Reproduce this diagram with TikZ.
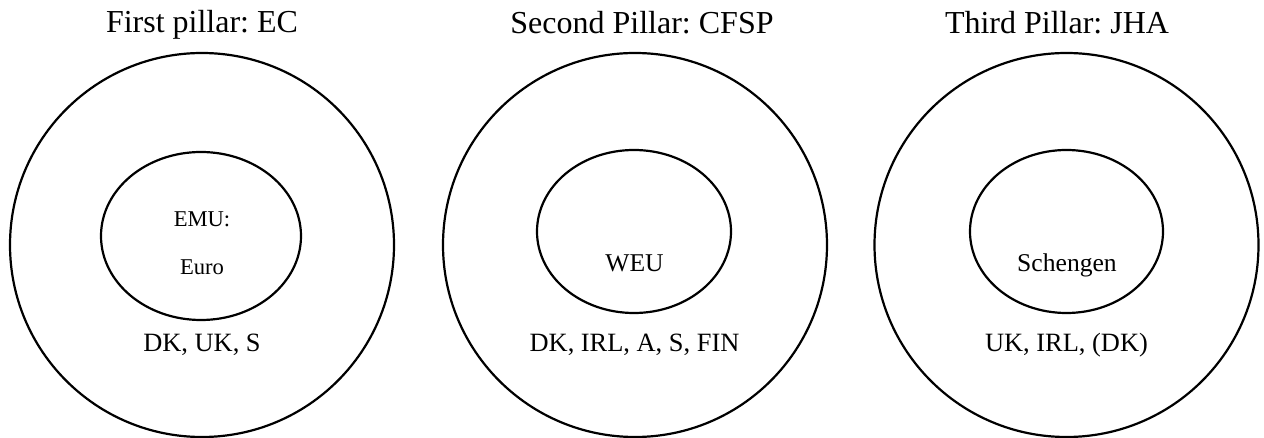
\documentclass[tikz,border=0pt]{standalone}
\usepackage{fontspec}
\setmainfont{Liberation Serif}
\frenchspacing
\usetikzlibrary{shapes.geometric}
\tikzset{
  pillar/.style={draw=black,line width=1.1pt,circle,inner sep=0pt,minimum size=192pt},
  core/.style={draw=black,line width=1.1pt,ellipse,inner sep=0pt},
  pillarhead/.style={font=\fontsize{16}{19}\selectfont,anchor=base},
  optout/.style={font=\fontsize{13.2}{16}\selectfont,anchor=base},
  corelabel/.style={font=\fontsize{12.8}{15}\selectfont,anchor=base},
  corelabelsmall/.style={font=\fontsize{11.3}{14}\selectfont,anchor=base},
}
\begin{document}
\begin{tikzpicture}[x=.5pt,y=-.5pt]
    \useasboundingbox (0,0) rectangle (1264,438);
    % --- first pillar ---
    \node[pillarhead] (headEC) at (202,33) {First pillar: EC};
    \node[pillar] (pillarEC) at (202,245) {};
    \node[core,minimum width=100pt,minimum height=84pt] (coreEMU) at (201,236) {};
    \node[corelabelsmall] (labEMU) at (202,227) {EMU:};
    \node[corelabelsmall] (labEuro) at (202,275) {Euro};
    \node[optout] (outEC) at (202,351) {DK, UK, S};

    % --- second pillar ---
    \node[pillarhead] (headCFSP) at (642,34) {Second Pillar: CFSP};
    \node[pillar] (pillarCFSP) at (635,245) {};
    \node[core,minimum width=97pt,minimum height=81.5pt] (coreWEU) at (634,231.5) {};
    \node[corelabel] (labWEU) at (634.5,272) {WEU};
    \node[optout] (outCFSP) at (634.5,351) {DK, IRL, A, S, FIN};

    % --- third pillar ---
    \node[pillarhead] (headJHA) at (1057,34) {Third Pillar: JHA};
    \node[pillar] (pillarJHA) at (1066.5,245) {};
    \node[core,minimum width=96.5pt,minimum height=81.5pt] (coreSch) at (1066.5,231.5) {};
    \node[corelabel] (labSch) at (1067,272) {Schengen};
    \node[optout] (outJHA) at (1066.5,351) {UK, IRL, (DK)};
  \end{tikzpicture}
\end{document}
